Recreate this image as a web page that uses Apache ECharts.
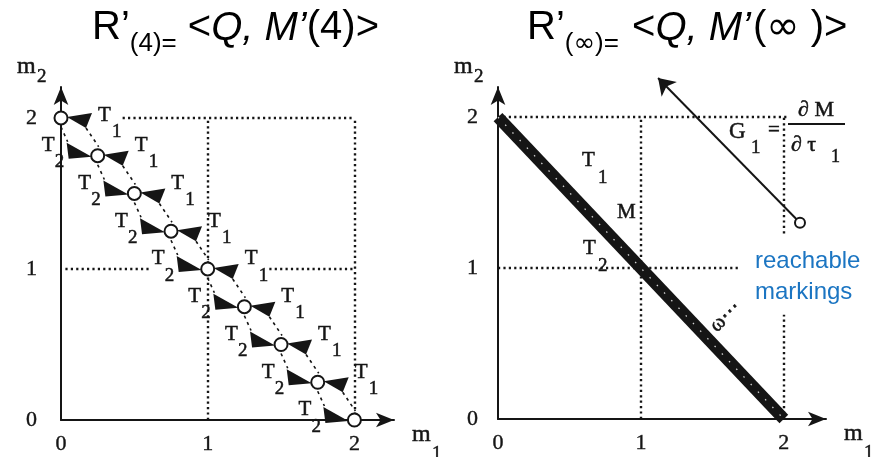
<!DOCTYPE html>
<html><head><meta charset="utf-8">
<script src="https://cdn.jsdelivr.net/npm/echarts@6/dist/echarts.min.js"></script>
<style>html,body{margin:0;padding:0;background:#fff}#c{width:877px;height:457px}</style>
</head><body><div id="c"></div>
<script>
// ---------------- data ----------------
// reachable markings of R'(4): (m1, m2)
const states4M1 = [0, 0.25, 0.5, 0.75, 1, 1.25, 1.5, 1.75, 2];
const states4M2 = [2, 1.75, 1.5, 1.25, 1, 0.75, 0.5, 0.25, 0];
// continuum of reachable markings of R'(inf)
const reachLineM1 = [0, 2];
const reachLineM2 = [2, 0];
// gradient vector G1 (from tail circle to arrow head)
const gradientM1 = [2.113, 1.12];
const gradientM2 = [1.30, 2.26];
const tickValues = [0, 1, 2];
const tickLabels = ['0', '1', '2'];
// dotted guide segments [m1a, m2a, m1b, m2b]
const guidesLeft = [[0.42, 2, 2, 2], [0.03, 1, 0.6, 1], [1.42, 1, 2, 1], [1, 0, 1, 2], [2, 0, 2, 2]];
const guidesRight = [[0, 2, 2.02, 2], [0, 1, 1.68, 1], [1, 0, 1, 2], [2, 0, 2, 0.69], [2, 1.23, 2, 2]];

// ---------------- styles ----------------
const ink = '#151515';
const serif = '"Liberation Serif", "DejaVu Serif", serif';
const sans = '"Liberation Sans", Arial, sans-serif';
const blue = '#1b75c2';

const chart = echarts.init(document.getElementById('c'), null, {renderer: 'canvas'});

function fmt(v) { const k = tickValues.indexOf(v); return k < 0 ? '' : tickLabels[k]; }
function axisCommon(margin) {
  return {
    type: 'value', min: 0, interval: 1,
    axisLine: {show: true, onZero: false, symbol: ['none', 'arrow'], symbolSize: [11, 18], lineStyle: {color: ink, width: 2}},
    axisTick: {show: false}, splitLine: {show: false},
    axisLabel: {margin, color: ink, fontFamily: serif, fontSize: 22, formatter: fmt, showMaxLabel: false,
      textBorderColor: ink, textBorderWidth: 0.4}
  };
}
function guideSeries(guides, gi) {
  return {
    type: 'lines', coordinateSystem: 'cartesian2d', xAxisIndex: gi, yAxisIndex: gi, silent: true, z: 1,
    data: guides.map(g => ({coords: [[g[0], g[1]], [g[2], g[3]]]})),
    lineStyle: {color: ink, width: 2.4, type: [2.2, 3.2], opacity: 1, curveness: 0}
  };
}
function tx(str, x, baseline, size, opt) {
  opt = opt || {};
  const st = {text: str, fontSize: size, fontFamily: opt.family || serif, fontStyle: opt.italic ? 'italic' : 'normal',
    fill: opt.color || ink, align: opt.align || 'left', verticalAlign: 'middle'};
  if (opt.heavy) { st.stroke = opt.color || ink; st.lineWidth = opt.heavy; }
  return {type: 'text', x: x, y: baseline - 0.34 * size, silent: true, rotation: opt.rotation || 0, style: st};
}
const H = 0.5; // slight stroke to imitate the heavy scanned serif glyphs

function renderStates(params, api) {
  const i = params.dataIndex;
  const n = states4M1.length;
  const p = api.coord([states4M1[i], states4M2[i]]);
  const x = p[0], y = p[1];
  const ch = [];
  if (i > 0) {
    const q = api.coord([states4M1[i - 1], states4M2[i - 1]]);
    ch.push({type: 'line', shape: {x1: q[0], y1: q[1] + 9, x2: x - 30, y2: y - 14}, style: {stroke: ink, lineWidth: 1.6, lineDash: [3, 4]}});
    ch.push({type: 'polygon', shape: {points: [[x - 31, y - 13], [x - 29, y + 3], [x - 6, y + 1]]}, style: {fill: ink}});
    ch.push(tx('T', x - 56, y - 3, 21, {heavy: H}));
    ch.push(tx('2', x - 43, y + 13, 19, {heavy: H}));
  }
  if (i < n - 1) {
    const r = api.coord([states4M1[i + 1], states4M2[i + 1]]);
    ch.push({type: 'line', shape: {x1: x + 25, y1: y + 10, x2: r[0] + 1, y2: r[1] - 9}, style: {stroke: ink, lineWidth: 1.6, lineDash: [3, 4]}});
    ch.push({type: 'polygon', shape: {points: [[x + 6, y - 1], [x + 31, y - 5], [x + 25, y + 10]]}, style: {fill: ink}});
    const dy = i === 0 ? 8 : 0;
    ch.push(tx('T', x + 37, y - 3 + dy, 21, {heavy: H}));
    ch.push(tx('1', x + 51, y + 13 + dy, 19, {heavy: H}));
  }
  return {type: 'group', children: ch};
}

const option = {
  animation: false,
  backgroundColor: '#fff',
  grid: [
    {left: 61, top: 87, width: 333, height: 333},
    {left: 498, top: 87, width: 328, height: 332}
  ],
  xAxis: [
    Object.assign(axisCommon(13), {gridIndex: 0, max: 2.27}),
    Object.assign(axisCommon(13), {gridIndex: 1, max: 2.295})
  ],
  yAxis: [
    Object.assign(axisCommon(24), {gridIndex: 0, max: 2.205}),
    Object.assign(axisCommon(20), {gridIndex: 1, max: 2.2})
  ],
  series: [
    guideSeries(guidesLeft, 0),
    guideSeries(guidesRight, 1),
    {type: 'custom', xAxisIndex: 0, yAxisIndex: 0, clip: false, z: 4, silent: true,
      data: states4M1.map((m, i) => [m, states4M2[i]]), renderItem: renderStates},
    {type: 'scatter', xAxisIndex: 0, yAxisIndex: 0, clip: false, z: 6, silent: true,
      data: states4M1.map((m, i) => [m, states4M2[i]]),
      symbol: 'circle', symbolSize: 13, itemStyle: {color: '#fff', borderColor: ink, borderWidth: 2, opacity: 1}},
    {type: 'line', xAxisIndex: 1, yAxisIndex: 1, z: 3, silent: true, symbol: 'none',
      data: reachLineM1.map((m, i) => [m, reachLineM2[i]]),
      lineStyle: {color: ink, width: 12, cap: 'butt'}},
    {type: 'line', xAxisIndex: 1, yAxisIndex: 1, z: 4, silent: true, symbol: 'none',
      data: reachLineM1.map((m, i) => [m, reachLineM2[i]]),
      lineStyle: {color: '#ffffff', width: 1.3, type: [1.5, 9], opacity: 0.8}},
    {type: 'lines', coordinateSystem: 'cartesian2d', xAxisIndex: 1, yAxisIndex: 1, z: 4, silent: true, clip: false,
      data: [{coords: [[gradientM1[0], gradientM2[0]], [gradientM1[1], gradientM2[1]]]}],
      symbol: ['none', 'arrow'], symbolSize: 16,
      lineStyle: {color: ink, width: 2, opacity: 1, curveness: 0}},
    {type: 'scatter', xAxisIndex: 1, yAxisIndex: 1, z: 6, silent: true, clip: false,
      data: [[gradientM1[0], gradientM2[0]]],
      symbol: 'circle', symbolSize: 10, itemStyle: {color: '#fff', borderColor: ink, borderWidth: 2, opacity: 1}}
  ]
};
chart.setOption(option);

// ---------------- text annotations ----------------
const mctx = document.createElement('canvas').getContext('2d');
function runText(x, baseline, parts) {
  const els = []; let cx = x;
  for (const p of parts) {
    const style = p.italic ? 'italic ' : '';
    const fam = p.family || sans;
    mctx.font = style + p.size + 'px ' + fam;
    const w = mctx.measureText(p.t).width;
    els.push(tx(p.t, cx, baseline + (p.dy || 0), p.size, {family: fam, italic: p.italic, color: '#000'}));
    cx += w + (p.gap || 0);
  }
  return els;
}
const px = (g, v) => chart.convertToPixel({gridIndex: g}, v);
const xEnd0 = px(0, [2.27, 0]), yEnd0 = px(0, [0, 2.205]);
const xEnd1 = px(1, [2.295, 0]), yEnd1 = px(1, [0, 2.2]);
const dj = '"DejaVu Sans", sans-serif';

let g = [];
g = g.concat(runText(92, 42, [
  {t: 'R’', size: 40}, {t: '(4)=', size: 26, dy: 11}, {t: ' <', size: 40},
  {t: 'Q, M’', size: 40, italic: true}, {t: '(4)>', size: 40}]));
g = g.concat(runText(527, 42, [
  {t: 'R’', size: 40}, {t: '(', size: 26, dy: 11}, {t: '∞', size: 26, dy: 11, family: dj},
  {t: ')=', size: 26, dy: 11, gap: 2}, {t: ' <', size: 40},
  {t: 'Q, M’', size: 40, italic: true, gap: 2}, {t: '(', size: 40}, {t: '∞', size: 40, family: dj},
  {t: ' )>', size: 40}]));
// axis names
[[yEnd0, xEnd0], [yEnd1, xEnd1]].forEach(([ye, xe]) => {
  g.push(tx('m', ye[0] - 44, ye[1] - 12, 24, {heavy: H}));
  g.push(tx('2', ye[0] - 24, ye[1] - 4, 19, {heavy: H}));
  g.push(tx('m', xe[0] + 18, xe[1] + 23, 24, {heavy: H}));
  g.push(tx('1', xe[0] + 38, xe[1] + 40, 19, {heavy: H}));
});
// right panel labels
g.push(tx('T', 582, 168, 21, {heavy: H})); g.push(tx('1', 598, 184, 19, {heavy: H}));
g.push(tx('M', 617, 220, 21, {heavy: H}));
g.push(tx('T', 583, 256, 21, {heavy: H})); g.push(tx('2', 598, 272, 19, {heavy: H}));
g.push(tx('ω⋯', 713, 336, 21, {rotation: Math.PI / 4, heavy: H}));
// G1 = dM / d tau1
g.push(tx('G', 729, 140, 23, {heavy: H})); g.push(tx('1', 751, 154, 19, {heavy: H}));
g.push(tx('=', 768, 138, 21, {heavy: H}));
g.push(tx('∂ M', 816, 118, 22, {align: 'center', heavy: H}));
g.push({type: 'line', silent: true, shape: {x1: 788, y1: 124, x2: 845, y2: 124}, style: {stroke: ink, lineWidth: 2}});
g.push(tx('∂ τ', 791, 153, 22, {heavy: H}));
g.push(tx('1', 831, 163, 18, {heavy: H}));
// reachable markings
g.push(tx('reachable', 755, 270, 24, {family: sans, color: blue}));
g.push(tx('markings', 755, 301, 24, {family: sans, color: blue}));

chart.setOption({graphic: g.map(e => Object.assign({z: 100}, e))});
</script>
</body></html>
